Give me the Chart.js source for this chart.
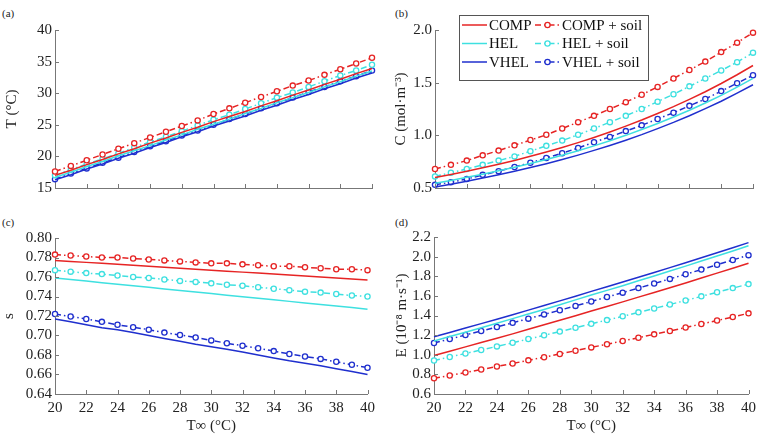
<!DOCTYPE html>
<html>
<head>
<meta charset="utf-8">
<script src="https://cdn.jsdelivr.net/npm/chart.js@4.4.0/dist/chart.umd.min.js"></script>
<style>
  body { margin: 0; background: #fff; width: 761px; height: 438px; position: relative; overflow: hidden; font-family: "Liberation Serif", serif; }
  .pane { position: absolute; }
  .tag { position: absolute; font-size: 11px; color: #222; line-height: 12px; }
</style>
</head>
<body>
<div class="tag" style="left:2px;top:7px">(a)</div>
<div class="tag" style="left:395px;top:7px">(b)</div>
<div class="tag" style="left:2px;top:216px">(c)</div>
<div class="tag" style="left:395px;top:216px">(d)</div>

<div class="pane" style="left:0;top:0"><canvas id="chartA" width="380" height="215"></canvas></div>
<div class="pane" style="left:380px;top:0"><canvas id="chartB" width="381" height="215"></canvas></div>
<div class="pane" style="left:0;top:215px"><canvas id="chartC" width="380" height="223"></canvas></div>
<div class="pane" style="left:380px;top:215px"><canvas id="chartD" width="381" height="223"></canvas></div>

<script>
// ambient temperature (°C)
const temps = [20,21,22,23,24,25,26,27,28,29,30,31,32,33,34,35,36,37,38,39,40];

// (a) temperature T
const tComp     = [17.0,17.8,18.7,19.5,20.4,21.2,22.1,22.9,23.8,24.6,25.5,26.3,27.1,28.0,28.8,29.7,30.5,31.4,32.2,33.1,33.9];
const tHel      = [16.7,17.5,18.4,19.2,20.1,20.9,21.7,22.6,23.4,24.3,25.1,25.9,26.8,27.6,28.5,29.3,30.1,31.0,31.8,32.7,33.5];
const tVhel     = [16.3,17.1,18.0,18.8,19.7,20.5,21.4,22.2,23.1,23.9,24.8,25.6,26.4,27.3,28.1,29.0,29.8,30.7,31.5,32.4,33.2];
const tCompSoil = [17.6,18.5,19.4,20.3,21.2,22.1,23.0,23.9,24.8,25.7,26.7,27.6,28.5,29.4,30.3,31.2,32.0,32.9,33.8,34.7,35.6];
const tHelSoil  = [17.0,17.9,18.8,19.6,20.5,21.4,22.3,23.1,24.0,24.9,25.8,26.6,27.5,28.4,29.3,30.1,31.0,31.9,32.8,33.6,34.5];
const tVhelSoil = [16.4,17.3,18.1,19.0,19.8,20.7,21.6,22.4,23.3,24.1,25.0,25.9,26.7,27.6,28.4,29.3,30.2,31.0,31.9,32.7,33.6];

// (b) concentration C
const cComp     = [0.600,0.629,0.660,0.692,0.726,0.762,0.801,0.842,0.885,0.931,0.980,1.032,1.087,1.145,1.207,1.272,1.341,1.414,1.492,1.575,1.663];
const cHel      = [0.545,0.572,0.601,0.631,0.663,0.697,0.733,0.771,0.811,0.854,0.900,0.949,1.000,1.055,1.113,1.174,1.238,1.307,1.380,1.458,1.540];
const cVhel     = [0.510,0.536,0.565,0.594,0.625,0.658,0.694,0.731,0.770,0.812,0.857,0.904,0.954,1.007,1.064,1.123,1.186,1.253,1.324,1.400,1.480];
const cCompSoil = [0.680,0.720,0.760,0.810,0.855,0.905,0.955,1.005,1.065,1.125,1.185,1.250,1.315,1.385,1.460,1.540,1.620,1.700,1.790,1.880,1.975];
const cHelSoil  = [0.610,0.645,0.680,0.720,0.760,0.800,0.850,0.900,0.950,1.005,1.065,1.125,1.185,1.250,1.320,1.390,1.465,1.540,1.615,1.695,1.785];
const cVhelSoil = [0.530,0.555,0.585,0.625,0.660,0.700,0.740,0.785,0.830,0.880,0.935,0.985,1.040,1.095,1.155,1.215,1.280,1.345,1.420,1.495,1.570];

// (c) s
const sComp     = [0.777,0.776,0.775,0.774,0.773,0.772,0.771,0.770,0.769,0.768,0.767,0.766,0.765,0.764,0.763,0.762,0.761,0.760,0.759,0.758,0.757];
const sHel      = [0.759,0.7574,0.7558,0.7542,0.7526,0.751,0.7494,0.7478,0.7462,0.7446,0.743,0.7414,0.7398,0.7382,0.7366,0.735,0.7334,0.7318,0.7302,0.7286,0.727];
const sVhel     = [0.717,0.714,0.711,0.708,0.706,0.703,0.700,0.697,0.694,0.691,0.6885,0.686,0.683,0.680,0.677,0.674,0.6715,0.669,0.666,0.663,0.660];
const sCompSoil = [0.783,0.782,0.781,0.780,0.780,0.779,0.778,0.777,0.776,0.775,0.774,0.774,0.773,0.772,0.771,0.771,0.770,0.769,0.768,0.768,0.767];
const sHelSoil  = [0.767,0.7655,0.764,0.763,0.7615,0.760,0.759,0.7575,0.756,0.755,0.7535,0.752,0.751,0.7495,0.748,0.7465,0.745,0.744,0.7425,0.741,0.740];
const sVhelSoil = [0.722,0.7195,0.717,0.714,0.711,0.7085,0.706,0.703,0.7005,0.698,0.695,0.692,0.6895,0.687,0.684,0.681,0.6785,0.676,0.673,0.670,0.667];

// (d) E
const eComp     = [0.993,1.036,1.080,1.124,1.168,1.213,1.259,1.305,1.351,1.398,1.446,1.492,1.539,1.587,1.635,1.683,1.732,1.782,1.832,1.882,1.933];
const eHel      = [1.140,1.185,1.230,1.275,1.321,1.368,1.415,1.462,1.510,1.559,1.608,1.656,1.704,1.754,1.803,1.853,1.903,1.955,2.006,2.058,2.110];
const eVhel     = [1.183,1.227,1.272,1.317,1.362,1.408,1.455,1.502,1.549,1.597,1.646,1.693,1.741,1.790,1.839,1.888,1.938,1.989,2.040,2.091,2.143];
const eCompSoil = [0.760,0.789,0.819,0.849,0.880,0.911,0.943,0.975,1.008,1.041,1.075,1.107,1.140,1.174,1.208,1.242,1.277,1.313,1.349,1.385,1.422];
const eHelSoil  = [0.942,0.977,1.013,1.049,1.085,1.122,1.160,1.198,1.236,1.275,1.315,1.353,1.392,1.432,1.472,1.512,1.553,1.595,1.637,1.679,1.720];
const eVhelSoil = [1.120,1.160,1.201,1.242,1.283,1.325,1.368,1.411,1.454,1.498,1.543,1.588,1.633,1.679,1.726,1.773,1.820,1.868,1.917,1.966,2.015];

const labels = ['COMP', 'HEL', 'VHEL', 'COMP + soil', 'HEL + soil', 'VHEL + soil'];

const RED = '#e62424', CYAN = '#3ee0e0', BLUE = '#1f2fce';
const AXIS = '#777';
const FONT = 'Liberation Serif';

function series(label, ys, color, soil) {
  return {
    label: label,
    data: ys.map((y, i) => ({ x: temps[i], y: y })),
    borderColor: color,
    backgroundColor: '#fff',
    borderWidth: 1.5,
    borderDash: soil ? [6, 3, 1.5, 3] : [],
    pointRadius: soil ? 2.6 : 0,
    pointBorderWidth: 1.3,
    pointBorderColor: color,
    pointBackgroundColor: '#fff',
    tension: 0,
    fill: false,
    clip: false
  };
}

function sixSets(a, b, c, d, e, f) {
  return [
    series(labels[0], a, RED, false),
    series(labels[1], b, CYAN, false),
    series(labels[2], c, BLUE, false),
    series(labels[3], d, RED, true),
    series(labels[4], e, CYAN, true),
    series(labels[5], f, BLUE, true)
  ];
}

// tick marks pointing into the plot, matlab style
const innerTicks = {
  id: 'innerTicks',
  afterDraw(chart) {
    const { ctx, chartArea: a, scales: { x, y } } = chart;
    ctx.save();
    ctx.strokeStyle = AXIS;
    ctx.lineWidth = 1;
    ctx.beginPath();
    x.ticks.forEach(t => {
      const px = Math.round(x.getPixelForValue(t.value)) + 0.5;
      ctx.moveTo(px, a.bottom); ctx.lineTo(px, a.bottom - 4);
    });
    y.ticks.forEach(t => {
      const py = Math.round(y.getPixelForValue(t.value)) + 0.5;
      ctx.moveTo(a.left, py); ctx.lineTo(a.left + 4, py);
    });
    ctx.stroke();
    ctx.restore();
  }
};

// two-column legend in panel (b)
const legendBox = {
  id: 'legendBox',
  afterDraw(chart) {
    const ctx = chart.ctx;
    ctx.save();
    ctx.fillStyle = '#fff';
    ctx.strokeStyle = '#555';
    ctx.lineWidth = 1;
    ctx.fillRect(79.5, 15.5, 189, 65);
    ctx.strokeRect(79.5, 15.5, 189, 65);
    ctx.font = '15px "' + FONT + '"';
    ctx.textBaseline = 'middle';
    ctx.textAlign = 'left';
    chart.data.datasets.forEach((ds, i) => {
      const col = i < 3 ? 0 : 1, row = i % 3;
      const x0 = col ? 155 : 82, y0 = 25 + row * 18.5;
      ctx.strokeStyle = ds.borderColor;
      ctx.lineWidth = 1.5;
      ctx.setLineDash(ds.borderDash);
      ctx.beginPath(); ctx.moveTo(x0, y0); ctx.lineTo(x0 + 25, y0); ctx.stroke();
      ctx.setLineDash([]);
      if (ds.pointRadius) {
        ctx.fillStyle = '#fff';
        ctx.lineWidth = 1.3;
        ctx.beginPath(); ctx.arc(x0 + 12.5, y0, 2.6, 0, Math.PI * 2); ctx.fill(); ctx.stroke();
      }
      ctx.fillStyle = '#111';
      ctx.fillText(ds.label, x0 + 27, y0 + 1);
    });
    ctx.restore();
  }
};

function makeChart(id, sets, cfg) {
  const tickFont = { family: FONT, size: 15 };
  return new Chart(document.getElementById(id), {
    type: 'line',
    data: { datasets: sets },
    options: {
      responsive: false,
      animation: false,
      layout: { padding: { top: cfg.top, right: cfg.right, left: 0, bottom: 0 } },
      plugins: { legend: { display: false }, tooltip: { enabled: false } },
      scales: {
        x: {
          type: 'linear', min: 20, max: 40,
          ticks: { stepSize: 2, autoSkip: false, display: cfg.xLabels, font: tickFont, color: '#222', padding: 5, maxRotation: 0 },
          grid: { display: false, drawTicks: false },
          border: { color: AXIS },
          title: { display: cfg.xLabels, text: 'T∞ (°C)', font: tickFont, color: '#222', padding: { top: 0, bottom: 3 } },
          afterFit: s => { s.height = cfg.xh; }
        },
        y: {
          min: cfg.ymin, max: cfg.ymax,
          ticks: { stepSize: cfg.step, autoSkip: false, font: tickFont, color: '#222', padding: 3, callback: v => v.toFixed(cfg.dec) },
          grid: { display: false, drawTicks: false },
          border: { color: AXIS },
          title: { display: true, text: cfg.ytitle, font: tickFont, color: '#222', padding: { top: cfg.tpad, bottom: 0 } },
          afterFit: s => { s.width = cfg.yw; }
        }
      }
    },
    plugins: cfg.legend ? [innerTicks, legendBox] : [innerTicks]
  });
}

makeChart('chartA', sixSets(tComp, tHel, tVhel, tCompSoil, tHelSoil, tVhelSoil),
  { top: 30, right: 8, xh: 27, yw: 55, xLabels: false, ymin: 15, ymax: 40, step: 5, dec: 0, ytitle: 'T (°C)', tpad: 3 });
makeChart('chartB', sixSets(cComp, cHel, cVhel, cCompSoil, cHelSoil, cVhelSoil),
  { top: 30, right: 8, xh: 27, yw: 55, xLabels: false, ymin: 0.5, ymax: 2.0, step: 0.5, dec: 1, ytitle: 'C (mol·m⁻³)', tpad: 12, legend: true });
makeChart('chartC', sixSets(sComp, sHel, sVhel, sCompSoil, sHelSoil, sVhelSoil),
  { top: 23, right: 8, xh: 44, yw: 55, xLabels: true, ymin: 0.64, ymax: 0.80, step: 0.02, dec: 2, ytitle: 's', tpad: 0 });
makeChart('chartD', sixSets(eComp, eHel, eVhel, eCompSoil, eHelSoil, eVhelSoil),
  { top: 22, right: 9, xh: 44, yw: 54, xLabels: true, ymin: 0.6, ymax: 2.2, step: 0.2, dec: 1, ytitle: 'E (10⁻⁸ m·s⁻¹)', tpad: 13 });
</script>
</body>
</html>
